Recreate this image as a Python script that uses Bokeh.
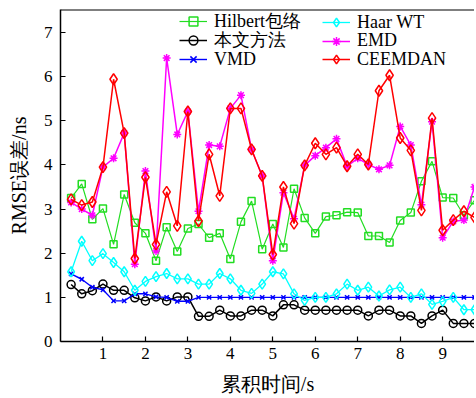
from bokeh.plotting import figure
from bokeh.models import Legend, LegendItem, Range1d, FixedTicker, Span
from bokeh.embed import file_html
from bokeh.resources import INLINE

times = [0.25, 0.5, 0.75, 1.0, 1.25, 1.5, 1.75, 2.0, 2.25, 2.5, 2.75, 3.0, 3.25,
         3.5, 3.75, 4.0, 4.25, 4.5, 4.75, 5.0, 5.25, 5.5, 5.75, 6.0, 6.25, 6.5,
         6.75, 7.0, 7.25, 7.5, 7.75, 8.0, 8.25, 8.5, 8.75, 9.0, 9.25, 9.5, 9.75]

hilbert = [3.25, 3.57, 2.77, 3.01, 2.20, 3.33, 2.69, 2.45, 1.83, 2.59, 2.04, 2.56, 2.66,
           2.35, 2.45, 1.87, 2.71, 3.18, 2.09, 2.66, 2.13, 3.46, 2.80, 2.45, 2.83, 2.86,
           2.93, 2.92, 2.39, 2.39, 2.24, 2.74, 2.92, 3.63, 4.08, 3.26, 3.25, 2.86, 3.2]

proposed = [1.29, 1.08, 1.15, 1.30, 1.16, 1.16, 0.99, 0.92, 1.01, 0.92, 1.01, 1.01, 0.57,
            0.57, 0.71, 0.58, 0.58, 0.71, 0.71, 0.58, 0.83, 0.83, 0.71, 0.71, 0.71, 0.71,
            0.71, 0.71, 0.58, 0.71, 0.71, 0.58, 0.58, 0.41, 0.58, 0.71, 0.41, 0.41, 0.41]

vmd = [1.53, 1.41, 1.23, 1.17, 0.92, 0.92, 1.08, 1.08, 1.01, 1.0, 0.91, 0.91, 1.0,
       1.0, 1.0, 1.0, 1.0, 1.0, 1.0, 1.0, 1.0, 1.0, 1.0, 1.0, 1.0, 1.0,
       1.0, 1.0, 1.0, 1.0, 1.0, 1.0, 1.0, 1.0, 1.0, 1.0, 1.0, 1.0, 1.0]

haar = [1.58, 2.27, 1.83, 1.99, 1.79, 1.58, 1.16, 1.36, 1.47, 1.54, 1.42, 1.42, 1.30,
        1.30, 1.54, 1.42, 1.16, 1.09, 1.30, 1.58, 1.53, 1.08, 0.93, 1.0, 1.0, 1.08,
        1.30, 1.16, 1.23, 1.03, 1.17, 1.23, 1.0, 1.08, 0.84, 0.91, 1.0, 0.72, 0.72]

emd = [3.15, 3.0, 2.86, 3.95, 4.15, 4.72, 1.75, 3.86, 2.05, 6.42, 4.69, 5.21, 2.95,
       4.45, 4.42, 5.28, 5.58, 4.35, 3.75, 1.83, 3.37, 2.78, 3.99, 4.21, 4.39, 4.59,
       3.97, 4.15, 4.01, 3.90, 3.99, 4.87, 4.45, 3.1, 4.98, 2.35, 2.72, 2.75, 3.5]

ceemdan = [3.22, 3.09, 3.16, 3.95, 5.94, 4.72, 1.88, 3.72, 2.20, 3.39, 2.62, 5.21, 2.73,
           4.24, 3.30, 5.28, 5.28, 4.35, 3.75, 1.97, 3.50, 2.67, 3.99, 4.49, 4.24, 4.39,
           3.97, 4.24, 4.01, 5.68, 6.03, 4.61, 4.33, 2.97, 5.06, 2.52, 2.75, 2.95, 2.81]

labels = ["Hilbert包络", "本文方法", "VMD", "Haar WT", "EMD", "CEEMDAN"]
x_ticks = [1, 2, 3, 4, 5, 6, 7, 8, 9]
y_ticks = [0, 1, 2, 3, 4, 5, 6, 7]
x_title = "累积时间/s"
y_title = "RMSE误差/ns"

SERIF = "Liberation Serif"
Y_TOP = 7.52

p = figure(width=474, height=402, output_backend="svg", toolbar_location=None,
           x_range=Range1d(0, 9.75), y_range=Range1d(0, Y_TOP),
           min_border_left=60, min_border_right=0, min_border_top=9,
           min_border_bottom=61)
p.xgrid.visible = False
p.ygrid.visible = False
p.outline_line_color = None
p.background_fill_color = "white"

# top border only (the reference's frame runs off the right edge)
p.add_layout(Span(location=Y_TOP - 0.008, dimension="width",
                  line_color="black", line_width=1.5))

for ax in (p.xaxis, p.yaxis):
    ax.major_tick_in = 5
    ax.major_tick_out = 0
    ax.minor_tick_line_color = None
    ax.axis_line_width = 1.5
    ax.major_tick_line_width = 1.2
    ax.major_label_text_font = SERIF
    ax.major_label_text_font_size = "17px"
    ax.major_label_text_color = "black"
    ax.axis_label_text_font = SERIF
    ax.axis_label_text_font_size = "20px"
    ax.axis_label_text_font_style = "normal"
    ax.axis_label_text_color = "black"

p.xaxis.ticker = FixedTicker(ticks=x_ticks)
p.yaxis.ticker = FixedTicker(ticks=y_ticks)
p.xaxis.major_label_standoff = 6
p.yaxis.major_label_standoff = 8
p.xaxis.axis_label = x_title
p.yaxis.axis_label = y_title
p.xaxis.axis_label_standoff = 11
p.yaxis.axis_label_standoff = 11

specs = [
    (hilbert, "#22dd22", "square", 7, 1.2),
    (proposed, "black", "circle", 8, 1.5),
    (vmd, "blue", "x", 6, 1.4),
    (haar, "cyan", "diamond", 10, 1.3),
    (emd, "magenta", "asterisk", 8, 1.5),
    (ceemdan, "red", "diamond", 11, 1.5),
]

items = []
for (vals, color, marker, size, lw), lab in zip(specs, labels):
    lr = p.line(times, vals, line_color=color, line_width=lw)
    sr = p.scatter(times, vals, marker=marker, size=size, line_color=color,
                   fill_color=None, line_width=1.5)
    items.append(LegendItem(label=lab, renderers=[lr, sr]))

# one legend per entry so the row pitch can be set exactly
FRAME_H = 332
row_centers = [13, 31.5, 50]
col_x = [119, 262]
for i, it in enumerate(items):
    col, row = divmod(i, 3)
    y_loc = FRAME_H - row_centers[row] - 11
    p.add_layout(Legend(items=[it], location=(col_x[col], y_loc),
                        border_line_color=None, background_fill_alpha=0,
                        padding=0, margin=0, spacing=0, glyph_width=28,
                        glyph_height=22, label_height=22, label_standoff=7,
                        label_text_font=SERIF, label_text_font_size="18px",
                        label_text_color="black"))

open("out.html", "w").write(file_html(p, INLINE))
